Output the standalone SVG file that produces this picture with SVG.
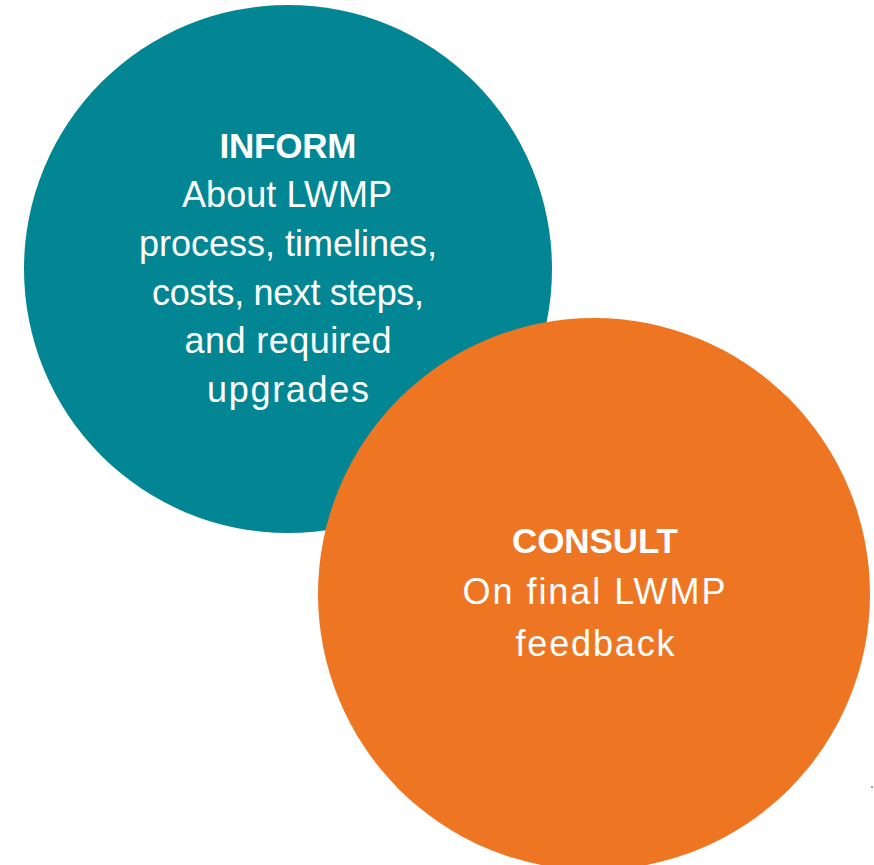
<svg xmlns="http://www.w3.org/2000/svg" width="874" height="865" viewBox="0 0 874 865">
  <style>
    .label { font-family: "Liberation Sans", Arial, sans-serif; font-size: 36px; fill: #ffffff; text-anchor: middle; }
    .title { font-weight: bold; font-size: 35px; }
  </style>
  <rect width="874" height="865" fill="#ffffff"/>
  <!-- Inform circle -->
  <g id="inform">
    <circle cx="288" cy="269" r="264" fill="#038693"/>
    <text class="label title" x="288" y="158" textLength="137">INFORM</text>
    <text class="label" x="287" y="207" textLength="210">About LWMP</text>
    <text class="label" x="288" y="256" textLength="298">process, timelines,</text>
    <text class="label" x="288" y="305" textLength="272">costs, next steps,</text>
    <text class="label" x="288" y="353" textLength="207">and required</text>
    <text class="label" x="288" y="402" textLength="162">upgrades</text>
  </g>
  <!-- Consult circle, drawn over the inform circle -->
  <g id="consult">
    <circle cx="594" cy="594" r="276" fill="#EE7623"/>
    <text class="label title" x="595" y="553" textLength="166">CONSULT</text>
    <text class="label" x="594" y="604" textLength="263">On final LWMP</text>
    <text class="label" x="595" y="656" textLength="159">feedback</text>
  </g>
  <g id="connectors"/>
  <rect x="871" y="786" width="2" height="2" fill="#9a9a9a"/>
</svg>
